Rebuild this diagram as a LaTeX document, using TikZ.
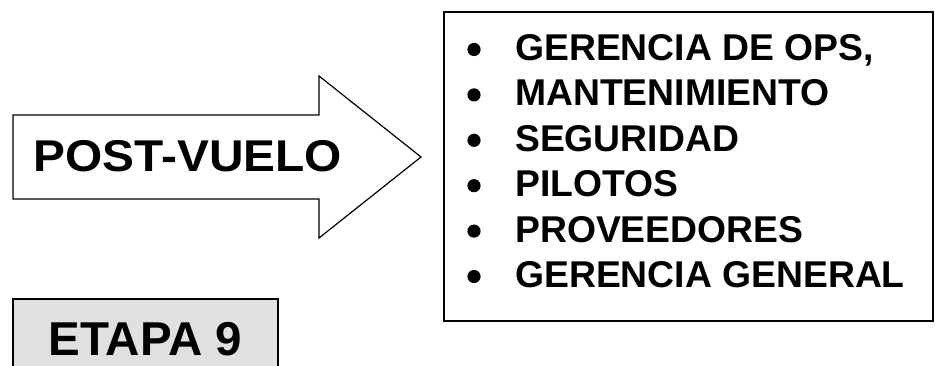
\documentclass[tikz,border=0pt]{standalone}
\usepackage{fontspec}
\setmainfont{Liberation Sans}
\usetikzlibrary{positioning}
\definecolor{etapagris}{HTML}{E0E0E0}

\begin{document}
\begin{tikzpicture}[x=1pt, y=-1pt,
      flecha/.style={draw=black, line width=1.2pt, fill=white},
      caja/.style={draw=black, line width=2pt, fill=white,
        minimum width=489pt, minimum height=309pt},
      item/.style={inner sep=0pt, anchor=base west,
        font=\fontsize{37.3}{45}\selectfont\bfseries},
      punto/.style={fill=black},
      etapa/.style={draw=black, line width=1.5pt, fill=etapagris,
        minimum width=265pt, minimum height=81pt, inner sep=0pt,
        font=\fontsize{47.5}{57}\selectfont\bfseries}]
    \useasboundingbox (0,0) rectangle (935,366);
    \clip (0,0) rectangle (935,366);
    % flecha grande
    \draw[flecha] (13,115) -- (319,115) -- (319,76) -- (421,157)
      -- (319,238) -- (319,199) -- (13,199) -- cycle;
    \node[inner sep=0pt, anchor=base, font=\fontsize{44.5}{53}\selectfont\bfseries]
      (post) at (188,171.7) {\scalebox{1.075}[1]{POST-VUELO}};
    % lista de areas
    \node[caja] (lista) at (688.5,166.5) {};
    \foreach \texto [count=\i] in {{GERENCIA DE OPS,}, MANTENIMIENTO, SEGURIDAD,
        PILOTOS, PROVEEDORES, GERENCIA GENERAL} {
      \node[item] (item\i) at (515,{60.5+45.4*(\i-1)}) {\texto};
      \fill[punto] (474,{49.5+45.4*(\i-1)}) circle (6.6);
    }
    % etapa
    \node[etapa] (etapa) at (145.5,339.5) {ETAPA 9};
  \end{tikzpicture}
\end{document}
